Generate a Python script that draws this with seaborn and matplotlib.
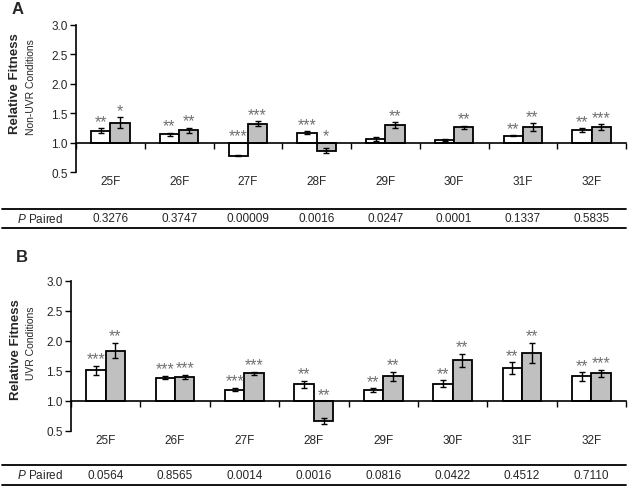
import numpy as np
import pandas as pd
import matplotlib
matplotlib.use('Agg')
import matplotlib.pyplot as plt
import matplotlib.transforms as mtransforms
from matplotlib.lines import Line2D
from matplotlib.ticker import FixedLocator, FuncFormatter
import seaborn as sns

# strains on the x axis
strains = ['25F', '26F', '27F', '28F', '29F', '30F', '31F', '32F']

# panel A - non-UVR conditions
a_white = [1.20, 1.14, 0.78, 1.17, 1.06, 1.04, 1.12, 1.21]
a_white_err = [0.04, 0.03, 0.01, 0.02, 0.04, 0.02, 0.01, 0.03]
a_gray = [1.34, 1.21, 1.32, 0.86, 1.30, 1.26, 1.26, 1.26]
a_gray_err = [0.09, 0.04, 0.04, 0.04, 0.05, 0.03, 0.07, 0.05]
a_white_sig = ['**', '**', '***', '***', '', '', '**', '**']
a_gray_sig = ['*', '**', '***', '*', '**', '**', '**', '***']
a_p = ['0.3276', '0.3747', '0.00009', '0.0016', '0.0247', '0.0001', '0.1337', '0.5835']

# panel B - UVR conditions
b_white = [1.51, 1.39, 1.19, 1.28, 1.18, 1.29, 1.55, 1.41]
b_white_err = [0.08, 0.03, 0.03, 0.06, 0.03, 0.06, 0.10, 0.07]
b_gray = [1.84, 1.40, 1.46, 0.66, 1.41, 1.68, 1.80, 1.46]
b_gray_err = [0.13, 0.04, 0.03, 0.05, 0.08, 0.11, 0.17, 0.06]
b_white_sig = ['***', '***', '***', '**', '**', '**', '**', '**']
b_gray_sig = ['**', '***', '***', '**', '**', '**', '**', '***']
b_p = ['0.0564', '0.8565', '0.0014', '0.0016', '0.0816', '0.0422', '0.4512', '0.7110']

sns.set_style('white')
plt.rcParams['font.family'] = ['Liberation Sans', 'DejaVu Sans']
plt.rcParams['mathtext.fontset'] = 'custom'
plt.rcParams['mathtext.it'] = 'Liberation Sans:italic'
plt.rcParams['mathtext.rm'] = 'Liberation Sans'

W, H = 629, 489
fig = plt.figure(figsize=(W / 100, H / 100), dpi=100)


def fx(px):
    return px / W


def fy(px):
    return 1 - px / H


def draw_panel(ax, white, white_err, gray, gray_err, wsig, gsig, pvals, table_top, table_bot):
    df = pd.DataFrame({
        'strain': strains * 2,
        'group': ['white'] * 8 + ['gray'] * 8,
        'delta': np.r_[white, gray] - 1,
        'err': white_err + gray_err,
        'sig': wsig + gsig,
    })
    sns.barplot(data=df, x='strain', y='delta', hue='group',
                palette={'white': 'white', 'gray': '#c0c0c0'},
                width=0.56, edgecolor='black', linewidth=1.3,
                errorbar=None, legend=False, saturation=1, ax=ax)

    # error bars and stars on each bar
    for p in ax.patches:
        x = p.get_x() + p.get_width() / 2
        h = p.get_height()
        idx = int(round(x))
        grp = 'white' if x < idx else 'gray'
        row = df[(df.strain == strains[idx]) & (df.group == grp)].iloc[0]
        ax.errorbar(x, h, yerr=row.err, fmt='none', ecolor='black',
                    elinewidth=1, capsize=2.5, capthick=1)
        top = h + row.err if h > 0 else 0
        if row.sig:
            ax.annotate(row.sig, (x, top), xytext=(0, -0.5), textcoords='offset points',
                        ha='center', va='bottom', fontsize=11.5, color='#707070')

    ax.set_xlim(-0.5, 7.5)
    ax.set_ylim(-0.5, 2.0)
    ax.yaxis.set_major_locator(FixedLocator(np.arange(-0.5, 2.01, 0.5)))
    ax.yaxis.set_major_formatter(FuncFormatter(lambda v, pos: f'{v + 1:.1f}'))
    ax.set_xticks(np.arange(-0.5, 7.6, 1.0))
    ax.set_xticklabels([])
    ax.set_xlabel('')
    ax.set_ylabel('')
    ax.tick_params(axis='both', direction='out', length=4, width=1, color='black',
                   labelsize=8.5, left=True, bottom=True, pad=2)
    for s in ['top', 'right']:
        ax.spines[s].set_visible(False)
    ax.spines['bottom'].set_position(('data', 0))
    ax.spines['bottom'].set_linewidth(1.2)
    ax.spines['left'].set_linewidth(1.2)
    ax.spines['bottom'].set_color('black')
    ax.spines['left'].set_color('black')

    for i, s in enumerate(strains):
        ax.annotate(s, (i, 0), xycoords=('data', 'axes fraction'), xytext=(0, -2),
                    textcoords='offset points', ha='center', va='top', fontsize=8.5)

    # P paired table row
    tr = mtransforms.blended_transform_factory(ax.transData, fig.transFigure)
    ymid = (fy(table_top) + fy(table_bot)) / 2
    for i, v in enumerate(pvals):
        ax.text(i, ymid, v, transform=tr, ha='center', va='center', fontsize=8.5,
                clip_on=False)
    fig.text(fx(40), ymid, '$P$ Paired', ha='center', va='center', fontsize=8.5)
    for yy in (table_top, table_bot):
        fig.add_artist(Line2D([fx(2), fx(626)], [fy(yy), fy(yy)], color='black', lw=1.3))


ax_a = fig.add_axes([fx(76), fy(173), fx(626) - fx(76), fy(26) - fy(173)])
draw_panel(ax_a, a_white, a_white_err, a_gray, a_gray_err, a_white_sig, a_gray_sig,
           a_p, 210, 229)
fig.text(fx(18), fy(10), 'A', fontsize=12, fontweight='bold', ha='center', va='center')
fig.text(fx(15), fy(84), 'Relative Fitness', fontsize=9.5, fontweight='bold',
         rotation=90, ha='center', va='center')
fig.text(fx(31), fy(87), 'Non-UVR Conditions', fontsize=7.5, rotation=90,
         ha='center', va='center')

ax_b = fig.add_axes([fx(71), fy(432), fx(626) - fx(71), fy(282) - fy(432)])
draw_panel(ax_b, b_white, b_white_err, b_gray, b_gray_err, b_white_sig, b_gray_sig,
           b_p, 466, 486)
fig.text(fx(22), fy(258), 'B', fontsize=12, fontweight='bold', ha='center', va='center')
fig.text(fx(16), fy(350), 'Relative Fitness', fontsize=9.5, fontweight='bold',
         rotation=90, ha='center', va='center')
fig.text(fx(31), fy(343), 'UVR Conditions', fontsize=7.5, rotation=90,
         ha='center', va='center')

fig.savefig('out.png', dpi=100)
